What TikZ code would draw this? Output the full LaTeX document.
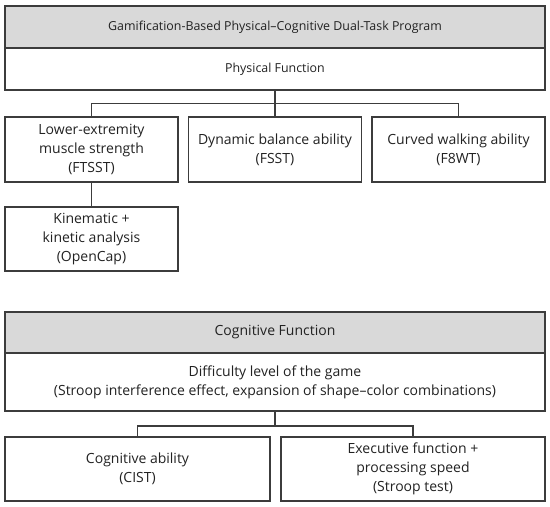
\documentclass[tikz,border=0pt]{standalone}
\usepackage{fontspec}
\setmainfont{Open Sans}
\definecolor{edge}{HTML}{3C3C3C}
\definecolor{grayfill}{HTML}{D9D9D9}
\definecolor{ink}{HTML}{222222}
\begin{document}
\begin{tikzpicture}[x=1pt,y=-1pt,
  box/.style={draw=edge,line width=1.2pt,inner sep=0pt,align=center,text=ink,
    font=\fontsize{14}{18.7}\selectfont},
  headbox/.style={box,fill=grayfill},
  smallfont/.style={font=\fontsize{12.4}{16}\selectfont},
  link/.style={draw=edge,line width=1.2pt}]
\useasboundingbox[fill=white] (0,0) rectangle (550,507);
% physical part
\node[headbox,smallfont,minimum width=540pt,minimum height=42pt] (top) at (275,27) {Gamification-Based Physical–Cognitive Dual-Task Program};
\node[box,smallfont,minimum width=540pt,minimum height=42pt] (phys) at (275,69) {Physical Function};
\node[box,minimum width=173pt,minimum height=65pt] (b1) at (91.5,149.5) {Lower-extremity\\muscle strength\\(FTSST)};
\node[box,minimum width=173pt,minimum height=65pt] (b2) at (275,149.5) {Dynamic balance ability\\(FSST)};
\node[box,minimum width=173pt,minimum height=65pt] (b3) at (458.5,149.5) {Curved walking ability\\(F8WT)};
\node[box,minimum width=173pt,minimum height=64pt] (b4) at (91.5,239) {Kinematic +\\kinetic analysis\\(OpenCap)};
\coordinate (j1) at (275,103.5);
\draw[link] (phys.south) -- (j1);
\draw[link] (j1) -- (b2.north);
\draw[link] (b1.north) |- (j1) -| (b3.north);
\draw[link] (b1.south) -- (b4.north);
% cognitive part
\node[headbox,minimum width=540pt,minimum height=41pt] (cog) at (275,332.5) {Cognitive Function};
\node[box,minimum width=540pt,minimum height=58pt] (diff) at (275,382) {Difficulty level of the game\\(Stroop interference effect, expansion of shape–color combinations)};
\node[box,minimum width=265pt,minimum height=64pt] (c1) at (137.5,469) {Cognitive ability\\(CIST)};
\node[box,minimum width=264pt,minimum height=64pt] (c2) at (413,469) {Executive function +\\processing speed\\(Stroop test)};
\coordinate (j2) at (275,426);
\draw[link] (diff.south) -- (j2);
\draw[link] (c1.north) |- (j2) -| (c2.north);
\end{tikzpicture}
\end{document}
